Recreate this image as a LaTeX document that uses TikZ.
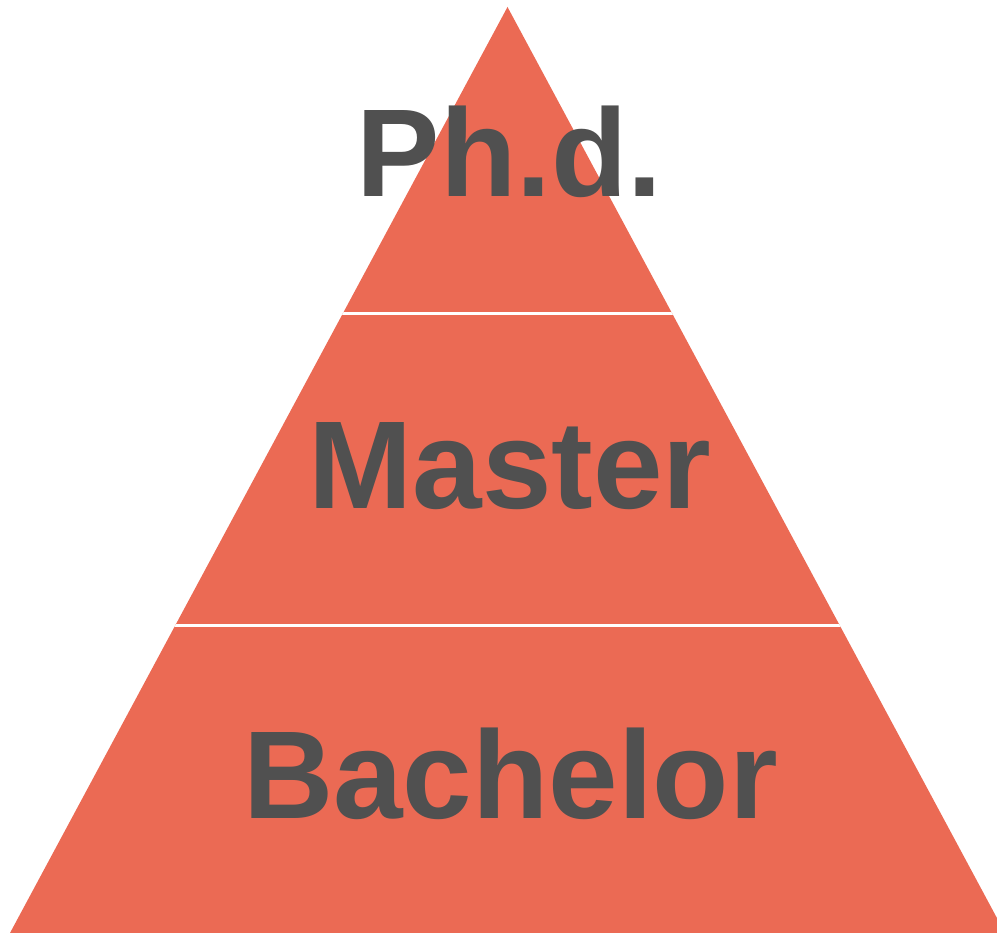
\documentclass[tikz,border=0pt]{standalone}
\usepackage{fontspec}
\setmainfont{Liberation Sans}
\definecolor{pyrfill}{HTML}{EB6A54}
\definecolor{pyrtext}{HTML}{505050}
\begin{document}
\begin{tikzpicture}[x=1pt,y=1pt,
  lvltext/.style={text=pyrtext,font=\fontsize{125}{125}\selectfont\bfseries,anchor=base,inner sep=0pt},
  sep/.style={draw=white,line width=3.5pt}]
\useasboundingbox (0,0) rectangle (997,933);
\clip (0,0) rectangle (997,933);
\coordinate (apex) at (507.5,926);
\coordinate (bl) at (10,0);
\coordinate (br) at (1005,0);
\fill[pyrfill] (apex) -- (bl) -- (br) -- cycle;
\begin{scope}
\clip (apex) -- (bl) -- (br) -- cycle;
\coordinate (s1l) at (0,619.5);
\coordinate (s1r) at (997,619.5);
\coordinate (s2l) at (0,307.5);
\coordinate (s2r) at (997,307.5);
\draw[sep] (s1l) -- (s1r);
\draw[sep] (s2l) -- (s2r);
\end{scope}
\node[lvltext] (phd) at (509.5,736) {Ph.d.};
\node[lvltext] (master) at (510,424) {Master};
\node[lvltext] (bachelor) at (510.5,114) {Bachelor};
\end{tikzpicture}
\end{document}
